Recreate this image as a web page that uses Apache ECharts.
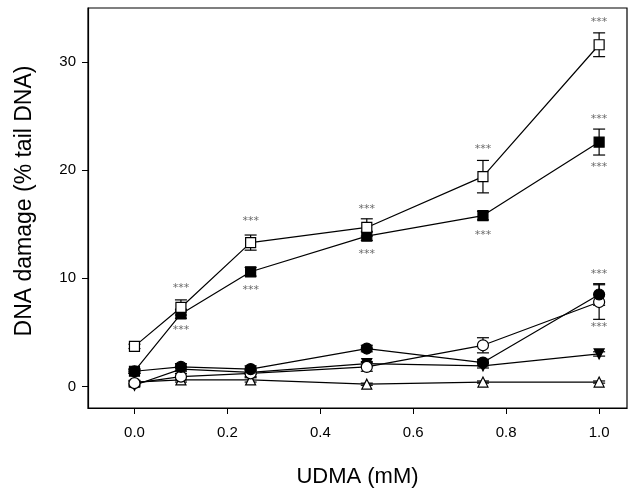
<!DOCTYPE html>
<html>
<head>
<meta charset="utf-8">
<script src="https://cdn.jsdelivr.net/npm/echarts@6/dist/echarts.min.js"></script>
<style>
  html, body { margin: 0; padding: 0; background: #fff; }
  #chart { width: 641px; height: 490px; }
</style>
</head>
<body>
<div id="chart"></div>
<script>
// UDMA concentrations (mM)
const doses = [0, 0.1, 0.25, 0.5, 0.75, 1.0];

// % tail DNA, one array per curve
const openSquare = [3.7, 7.3, 13.3, 14.7, 19.4, 31.6];
const openSquareErr = [0.2, 0.7, 0.7, 0.8, 1.5, 1.1];
const filledSquare = [1.4, 6.7, 10.6, 13.9, 15.8, 22.6];
const filledSquareErr = [0.2, 0.4, 0.4, 0.4, 0.4, 1.2];
const filledCircle = [1.4, 1.8, 1.6, 3.5, 2.2, 8.5];
const filledCircleErr = [0.2, 0.3, 0.3, 0.3, 0.3, 1.0];
const openCircle = [0.3, 0.9, 1.2, 1.8, 3.8, 7.8];
const openCircleErr = [0.2, 0.3, 0.3, 0.4, 0.7, 1.6];
const downTriangle = [0.1, 1.6, 1.3, 2.1, 1.9, 3.0];
const downTriangleErr = [0.1, 0.2, 0.2, 0.2, 0.2, 0.2];
const upTriangle = [0.4, 0.6, 0.6, 0.2, 0.4, 0.4];
const upTriangleErr = [0.1, 0.2, 0.2, 0.1, 0.1, 0.1];

// significance marks (x, y)
const starX = [0.1, 0.1, 0.25, 0.25, 0.5, 0.5, 0.75, 0.75, 1.0, 1.0, 1.0, 1.0, 1.0];
const starY = [9.1, 5.2, 15.3, 8.9, 16.4, 12.2, 21.9, 14.0, 33.7, 24.7, 20.3, 10.4, 5.5];

const xTicks = [0, 0.2, 0.4, 0.6, 0.8, 1.0];
const yTicks = [0, 10, 20, 30];

const chart = echarts.init(document.getElementById("chart"));

function pairs(ys) {
  return doses.map((d, i) => [d, ys[i]]);
}

function errorSeries(ys, errs) {
  return {
    type: "custom",
    silent: true,
    z: 1,
    data: doses.map((d, i) => [d, ys[i], errs[i]]),
    renderItem(params, api) {
      const x = api.value(0);
      const y = api.value(1);
      const e = api.value(2);
      const lo = api.coord([x, y - e]);
      const hi = api.coord([x, y + e]);
      const w = 6;
      const style = { stroke: "#000", lineWidth: 1.2 };
      return {
        type: "group",
        children: [
          { type: "line", shape: { x1: lo[0], y1: lo[1], x2: hi[0], y2: hi[1] }, style },
          { type: "line", shape: { x1: lo[0] - w, y1: lo[1], x2: lo[0] + w, y2: lo[1] }, style },
          { type: "line", shape: { x1: hi[0] - w, y1: hi[1], x2: hi[0] + w, y2: hi[1] }, style },
        ],
      };
    },
  };
}

function lineSeries(ys, symbol, filled, size, rotate) {
  return {
    type: "line",
    data: pairs(ys),
    symbol,
    symbolSize: size || 10,
    symbolRotate: rotate || 0,
    showAllSymbol: true,
    z: 3,
    lineStyle: { color: "#000", width: 1.2 },
    itemStyle: {
      color: filled ? "#000" : "#fff",
      borderColor: "#000",
      borderWidth: 1.2,
    },
    emphasis: { disabled: true },
  };
}

chart.setOption({
  animation: false,
  backgroundColor: "#fff",
  grid: {
    left: 88,
    right: 14,
    top: 8,
    bottom: 82,
    outerBoundsMode: "none",
    show: true,
    borderColor: "#000",
    borderWidth: 1.2,
  },
  xAxis: {
    type: "value",
    min: -0.1,
    max: 1.06,
    name: "UDMA (mM)",
    nameLocation: "middle",
    nameGap: 58,
    nameTextStyle: { fontSize: 22, color: "#000", fontFamily: "Liberation Sans" },
    axisLine: { show: true, onZero: false, lineStyle: { color: "#000", width: 1.2 } },
    axisTick: { show: true, length: 6, customValues: xTicks, lineStyle: { color: "#000" } },
    axisLabel: {
      customValues: xTicks,
      margin: 17,
      fontSize: 15,
      color: "#000",
      fontFamily: "Liberation Sans",
      formatter: (v) => v.toFixed(1),
    },
    splitLine: { show: false },
  },
  yAxis: {
    type: "value",
    min: -2,
    max: 35,
    name: "DNA damage (% tail DNA)",
    nameLocation: "middle",
    nameGap: 52,
    nameTextStyle: {
      fontSize: 23,
      color: "#000",
      fontFamily: "Liberation Sans",
      padding: [0, 0, 0, 14],
    },
    axisLine: { show: true, onZero: false, lineStyle: { color: "#000", width: 1.2 } },
    axisTick: { show: true, length: 6, customValues: yTicks, lineStyle: { color: "#000" } },
    axisLabel: {
      customValues: yTicks,
      margin: 12,
      fontSize: 15,
      color: "#000",
      fontFamily: "Liberation Sans",
    },
    splitLine: { show: false },
  },
  series: [
    errorSeries(upTriangle, upTriangleErr),
    errorSeries(downTriangle, downTriangleErr),
    errorSeries(openCircle, openCircleErr),
    errorSeries(filledCircle, filledCircleErr),
    errorSeries(filledSquare, filledSquareErr),
    errorSeries(openSquare, openSquareErr),
    lineSeries(upTriangle, "triangle", false, 10),
    lineSeries(downTriangle, "triangle", true, 10, 180),
    lineSeries(openCircle, "circle", false, 11),
    lineSeries(filledCircle, "circle", true, 11),
    lineSeries(filledSquare, "rect", true, 10),
    lineSeries(openSquare, "rect", false, 10),
    {
      type: "scatter",
      silent: true,
      symbolSize: 0,
      z: 4,
      data: starX.map((x, i) => [x, starY[i]]),
      label: {
        show: true,
        position: "inside",
        formatter: "***",
        fontSize: 11,
        color: "#444",
        fontFamily: "DejaVu Sans",
      },
    },
  ],
});
</script>
</body>
</html>
